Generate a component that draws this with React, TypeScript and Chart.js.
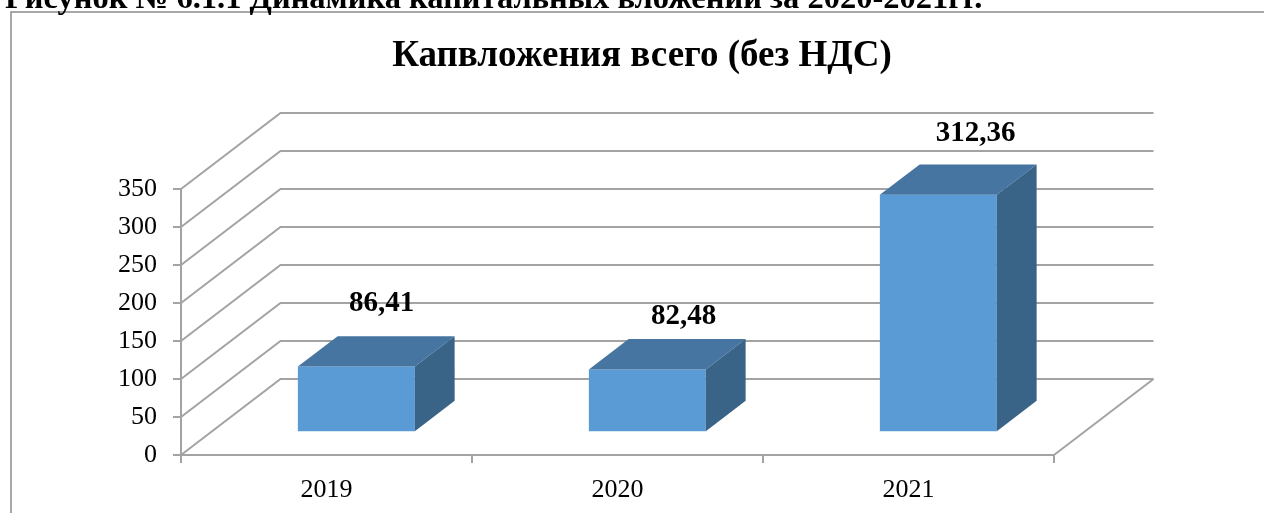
import React, { useEffect, useRef } from "react";
import { Chart, registerables } from "chart.js";

Chart.register(...registerables);

// ---- data ----
const categories = ["2019", "2020", "2021"];
const values = [86.41, 82.48, 312.36];
const valueLabels = ["86,41", "82,48", "312,36"];
const yMin = 0;
const yMax = 350;
const yStep = 50;
const chartTitle = "Капвложения всего (без НДС)";
const caption = "Рисунок № 6.1.1 Динамика капитальных вложений за 2020-2021гг.";

// ---- style ----
const W = 1264;
const H = 513;
const FONT = "'Liberation Serif', 'Times New Roman', serif";
const GRID = "#a3a3a3";
const FRONT = "#5b9bd5";
const TOP = "#4575a0";
const SIDE = "#3a6388";
const DEPTH_X = 99.5;
const DEPTH_Y = 76;
const BAR_FRONT = 0.3;
const BAR_BACK = 0.7;
const labelNudgeX = [-7, 4, 5];
const labelNudgeY = [-4, 6, -2];

const box3d = {
  id: "box3d",
  beforeDraw(chart: any) {
    const ctx = chart.ctx;
    ctx.save();
    // outer frame
    ctx.strokeStyle = "#8c8c8c";
    ctx.lineWidth = 1.5;
    ctx.beginPath();
    ctx.moveTo(11, H + 10);
    ctx.lineTo(11, 12);
    ctx.lineTo(W + 10, 12);
    ctx.stroke();
    // title
    ctx.fillStyle = "#000";
    ctx.font = `bold 37px ${FONT}`;
    ctx.textAlign = "center";
    ctx.textBaseline = "alphabetic";
    ctx.fillText(chartTitle, 642, 66);
    ctx.restore();
  },
  beforeDatasetsDraw(chart: any) {
    const ctx = chart.ctx;
    const { chartArea, scales } = chart;
    const y = scales.y;
    ctx.save();
    ctx.strokeStyle = GRID;
    ctx.lineWidth = 2;
    ctx.lineJoin = "miter";
    for (const t of y.ticks) {
      const py = y.getPixelForValue(t.value);
      ctx.beginPath();
      ctx.moveTo(chartArea.left, py);
      ctx.lineTo(chartArea.left + DEPTH_X, py - DEPTH_Y);
      ctx.lineTo(chartArea.right + DEPTH_X, py - DEPTH_Y);
      ctx.stroke();
    }
    const p0 = y.getPixelForValue(0);
    ctx.beginPath();
    ctx.moveTo(chartArea.right, p0);
    ctx.lineTo(chartArea.right + DEPTH_X, p0 - DEPTH_Y);
    ctx.stroke();
    ctx.restore();
    // shift bar front faces into the middle of the depth
    ctx.save();
    ctx.translate(DEPTH_X * BAR_FRONT, -DEPTH_Y * BAR_FRONT);
  },
  afterDatasetsDraw(chart: any) {
    const ctx = chart.ctx;
    ctx.restore();
    const meta = chart.getDatasetMeta(0);
    const fx = DEPTH_X * BAR_FRONT;
    const fy = DEPTH_Y * BAR_FRONT;
    const bx = DEPTH_X * (BAR_BACK - BAR_FRONT);
    const by = DEPTH_Y * (BAR_BACK - BAR_FRONT);
    ctx.save();
    meta.data.forEach((el: any, i: number) => {
      const p = el.getProps(["x", "y", "base", "width"], true);
      const x1 = p.x - p.width / 2 + fx;
      const x2 = p.x + p.width / 2 + fx;
      const yt = p.y - fy;
      const yb = p.base - fy;
      // top face
      ctx.fillStyle = TOP;
      ctx.beginPath();
      ctx.moveTo(x1, yt);
      ctx.lineTo(x2, yt);
      ctx.lineTo(x2 + bx, yt - by);
      ctx.lineTo(x1 + bx, yt - by);
      ctx.closePath();
      ctx.fill();
      // side face
      ctx.fillStyle = SIDE;
      ctx.beginPath();
      ctx.moveTo(x2, yt);
      ctx.lineTo(x2 + bx, yt - by);
      ctx.lineTo(x2 + bx, yb - by);
      ctx.lineTo(x2, yb);
      ctx.closePath();
      ctx.fill();
      // data label
      ctx.fillStyle = "#000";
      ctx.font = `bold 29px ${FONT}`;
      ctx.textAlign = "center";
      ctx.textBaseline = "middle";
      ctx.fillText(
        valueLabels[i],
        p.x + 62 + labelNudgeX[i],
        p.y - 82 + labelNudgeY[i]
      );
    });
    ctx.restore();
  },
};

export default function App() {
  const ref = useRef<HTMLCanvasElement>(null);
  useEffect(() => {
    if (!ref.current) return;
    const chart = new Chart(ref.current, {
      type: "bar",
      data: {
        labels: categories,
        datasets: [
          {
            data: values,
            backgroundColor: FRONT,
            borderWidth: 0,
            barPercentage: 0.402,
            categoryPercentage: 1,
          },
        ],
      },
      options: {
        responsive: false,
        animation: false,
        events: [],
        layout: { padding: { left: 0, top: 189, right: W - 1054, bottom: 0 } },
        plugins: {
          legend: { display: false },
          title: { display: false },
          tooltip: { enabled: false },
        },
        scales: {
          x: {
            afterFit(scale: any) {
              scale.height = H - 455;
            },
            grid: {
              display: true,
              drawOnChartArea: false,
              drawTicks: true,
              tickLength: 8,
              offset: true,
              color: GRID,
              lineWidth: 2,
            },
            border: { display: true, color: GRID, width: 2 },
            ticks: {
              color: "#000",
              padding: 12,
              font: { family: FONT, size: 26 },
            },
          },
          y: {
            min: yMin,
            max: yMax,
            afterFit(scale: any) {
              scale.width = 181;
            },
            grid: {
              display: true,
              drawOnChartArea: false,
              drawTicks: true,
              tickLength: 8,
              color: GRID,
              lineWidth: 2,
            },
            border: { display: true, color: GRID, width: 2 },
            ticks: {
              stepSize: yStep,
              color: "#000",
              padding: 16,
              font: { family: FONT, size: 26 },
            },
          },
        },
      },
      plugins: [box3d],
    });
    return () => chart.destroy();
  }, []);

  return (
    <div style={{ position: "absolute", left: 0, top: 0, width: W, height: H, overflow: "hidden", background: "#fff" }}>
      <canvas ref={ref} width={W} height={H} style={{ position: "absolute", left: 0, top: 0 }} />
      <div
        style={{
          position: "absolute",
          left: 5,
          top: -19,
          fontFamily: FONT,
          fontWeight: "bold",
          fontSize: 32.5,
          lineHeight: "32.5px",
          whiteSpace: "nowrap",
          color: "#000",
        }}
      >
        {caption}
      </div>
    </div>
  );
}
